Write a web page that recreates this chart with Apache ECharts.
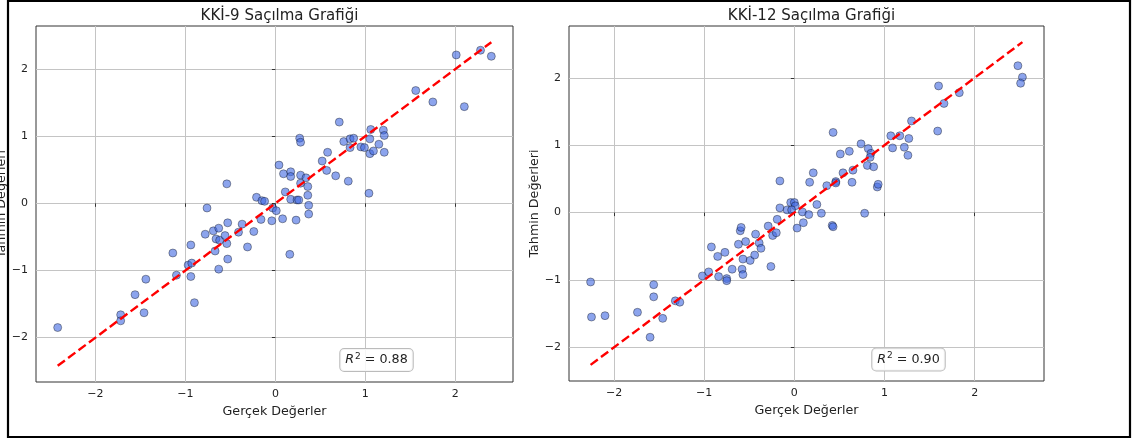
<!DOCTYPE html>
<html><head><meta charset="utf-8">
<script src="https://cdn.jsdelivr.net/npm/echarts@6/dist/echarts.min.js"></script>
<style>html,body{margin:0;padding:0;background:#fff}#c{width:1137px;height:443px}</style>
</head><body><div id="c"></div><script>
const titles = ['KKİ-9 Saçılma Grafiği', 'KKİ-12 Saçılma Grafiği'];
const xName = 'Gerçek Değerler';
const yName = 'Tahmin Değerleri';
const tickValues = [-2, -1, 0, 1, 2];
const r2Values = ['0.88', '0.90'];

const kki9Actual = [-2.42,-1.72,-1.72,-1.56,-1.46,-1.44,-1.14,-1.10,-0.97,-0.94,-0.93,-0.94,-0.90,-0.76,-0.78,-0.69,-0.63,-0.66,-0.62,-0.67,-0.63,-0.56,-0.54,-0.53,-0.53,-0.54,-0.37,-0.41,-0.31,-0.24,-0.21,-0.15,-0.12,-0.16,-0.04,-0.03,0.01,0.08,0.04,0.09,0.11,0.71,0.27,0.28,0.17,0.17,0.28,0.34,0.28,0.36,0.36,0.17,0.24,0.26,0.37,0.37,0.23,0.16,0.58,0.52,0.57,0.67,0.81,0.76,0.83,0.87,0.83,0.95,0.99,1.06,1.05,1.05,1.09,1.15,1.04,2.01,2.28,2.40,1.56,1.75,2.10,1.20,1.21,1.21];
const kki9Pred = [-1.85,-1.66,-1.75,-1.36,-1.63,-1.13,-0.74,-1.07,-0.92,-0.62,-0.89,-1.09,-1.48,-0.07,-0.46,-0.41,-0.37,-0.53,-0.55,-0.71,-0.98,-0.48,-0.60,-0.83,-0.29,0.29,-0.31,-0.43,-0.65,-0.42,0.09,0.04,0.03,-0.24,-0.26,-0.07,-0.11,-0.23,0.57,0.44,0.17,1.21,0.97,0.91,0.47,0.40,0.42,0.38,0.30,0.25,0.12,0.06,0.05,0.05,-0.03,-0.16,-0.25,-0.76,0.76,0.63,0.49,0.41,0.33,0.92,0.96,0.97,0.83,0.84,0.83,1.10,0.96,0.74,0.78,0.88,0.15,2.21,2.28,2.19,1.68,1.51,1.44,1.09,1.01,0.76];

const kki12Actual = [-2.26,-2.25,-2.10,-1.74,-1.60,-1.56,-1.56,-1.46,-1.32,-1.27,-1.02,-0.95,-0.92,-0.85,-0.77,-0.84,-0.75,-0.75,-0.69,-0.62,-0.60,-0.59,-0.57,-0.58,-0.57,-0.54,-0.49,-0.44,-0.43,-0.39,-0.37,-0.26,-0.29,-0.24,-0.20,-0.19,-0.16,-0.08,-0.04,0.00,0.01,0.03,0.09,0.10,-0.03,0.16,0.25,0.30,0.42,0.43,0.78,-0.16,0.17,0.21,0.36,0.46,0.46,0.43,0.54,0.51,0.61,0.65,0.64,0.74,0.82,0.85,0.84,0.81,0.88,0.92,0.93,1.07,1.17,1.27,1.09,1.22,1.26,1.30,1.59,1.60,1.66,1.83,2.48,2.53,2.51];
const kki12Pred = [-1.03,-1.55,-1.53,-1.48,-1.85,-1.07,-1.25,-1.57,-1.31,-1.33,-0.94,-0.88,-0.51,-0.65,-0.59,-0.95,-0.98,-1.01,-0.84,-0.47,-0.27,-0.22,-0.69,-0.84,-0.92,-0.43,-0.71,-0.63,-0.32,-0.45,-0.53,-0.80,-0.20,-0.34,-0.30,-0.10,0.07,0.04,0.15,0.15,0.10,-0.23,0.01,-0.15,0.04,-0.03,0.12,-0.01,-0.19,-0.21,-0.01,0.47,0.45,0.59,0.40,0.46,0.44,1.19,0.59,0.87,0.91,0.63,0.45,1.02,0.95,0.88,0.82,0.70,0.68,0.38,0.42,1.14,1.14,1.10,0.96,0.97,0.85,1.36,1.21,1.88,1.62,1.78,2.18,2.01,1.92];

const panels = [
  {actual: kki9Actual, pred: kki9Pred},
  {actual: kki12Actual, pred: kki12Pred}
];

const FONT = 'DejaVu Sans';
const fmt = v => String(v).replace('-', '\u2212');
const gridBoxes = [
  {left: 36, top: 26, width: 477, height: 356},
  {left: 569, top: 26, width: 475, height: 355}
];

function extentOf(p) {
  const lo = Math.min(...p.actual), hi = Math.max(...p.actual);
  const xs = p.actual.concat([lo, hi]);
  const ys = p.pred.concat([lo, hi]);
  const pad = (a) => { const mn = Math.min(...a), mx = Math.max(...a), m = (mx - mn) * 0.05; return [mn - m, mx + m]; };
  return {x: pad(xs), y: pad(ys), lo, hi};
}

const grids = [], xAxes = [], yAxes = [], series = [], titleOpts = [], graphics = [];
panels.forEach((p, i) => {
  const g = gridBoxes[i];
  const ext = extentOf(p);
  grids.push({left: g.left, top: g.top, width: g.width, height: g.height, show: true,
    containLabel: false, outerBoundsMode: 'none',
    borderColor: '#333', borderWidth: 1, backgroundColor: 'transparent'});
  const axisCommon = {
    type: 'value', gridIndex: i, splitNumber: 5,
    axisLine: {show: false},
    axisTick: {show: true, inside: false, length: 3.5, lineStyle: {color: '#333', width: 1}, customValues: tickValues},
    axisLabel: {color: '#222', fontSize: 11, fontFamily: FONT, formatter: fmt, customValues: tickValues, margin: 7},
    splitLine: {show: true, lineStyle: {color: '#c4c4c4', width: 1}},
    nameLocation: 'middle',
    nameTextStyle: {color: '#222', fontSize: 12.7, fontFamily: FONT}
  };
  xAxes.push(Object.assign({}, axisCommon, {min: ext.x[0], max: ext.x[1], name: xName, nameGap: 22}));
  yAxes.push(Object.assign({}, axisCommon, {min: ext.y[0], max: ext.y[1], name: yName, nameGap: 28, nameRotate: 90,
    axisLabel: Object.assign({}, axisCommon.axisLabel, {margin: 8})}));
  series.push({
    type: 'scatter', xAxisIndex: i, yAxisIndex: i, symbolSize: 8,
    data: p.actual.map((a, k) => [a, p.pred[k]]),
    itemStyle: {color: 'rgba(65,105,225,0.76)', borderColor: 'rgba(0,0,0,0.65)', borderWidth: 0.7},
    emphasis: {disabled: true}, animation: false
  });
  series.push({
    type: 'line', xAxisIndex: i, yAxisIndex: i, symbol: 'none',
    data: [[ext.lo, ext.lo], [ext.hi, ext.hi]],
    lineStyle: {color: '#ff0000', width: 2.4, type: [9, 4]},
    emphasis: {disabled: true}, animation: false, z: 3
  });
  titleOpts.push({text: titles[i], left: g.left + g.width / 2, top: 4, textAlign: 'center',
    textStyle: {fontSize: 15, fontWeight: 'normal', color: '#222', fontFamily: FONT}});
});

const r2Pos = [[376.5, 360], [908.5, 359.5]];
r2Values.forEach((v, i) => {
  graphics.push({
    type: 'text', x: r2Pos[i][0], y: r2Pos[i][1], z: 100,
    style: {
      text: '{r|R}{s|2}{n| = ' + v + '}',
      align: 'center', verticalAlign: 'middle',
      rich: {
        r: {fontStyle: 'italic', fontSize: 12.7, fontFamily: FONT, fill: '#222'},
        s: {fontSize: 9, fontFamily: FONT, fill: '#222', padding: [0, 0, 7, 1]},
        n: {fontSize: 12.7, fontFamily: FONT, fill: '#222'}
      },
      backgroundColor: 'rgba(255,255,255,0.85)', borderColor: '#bbbbbb', borderWidth: 1,
      borderRadius: 4, padding: [3, 5, 3, 5]
    }
  });
});
graphics.push({type: 'rect', z: 200, shape: {x: 8, y: 1, width: 1122, height: 436},
  style: {fill: 'none', stroke: '#000', lineWidth: 2.2}});

const chart = echarts.init(document.getElementById('c'), null, {renderer: 'canvas'});
chart.setOption({
  animation: false,
  title: titleOpts,
  grid: grids,
  xAxis: xAxes,
  yAxis: yAxes,
  series: series,
  graphic: graphics
});
</script></body></html>
